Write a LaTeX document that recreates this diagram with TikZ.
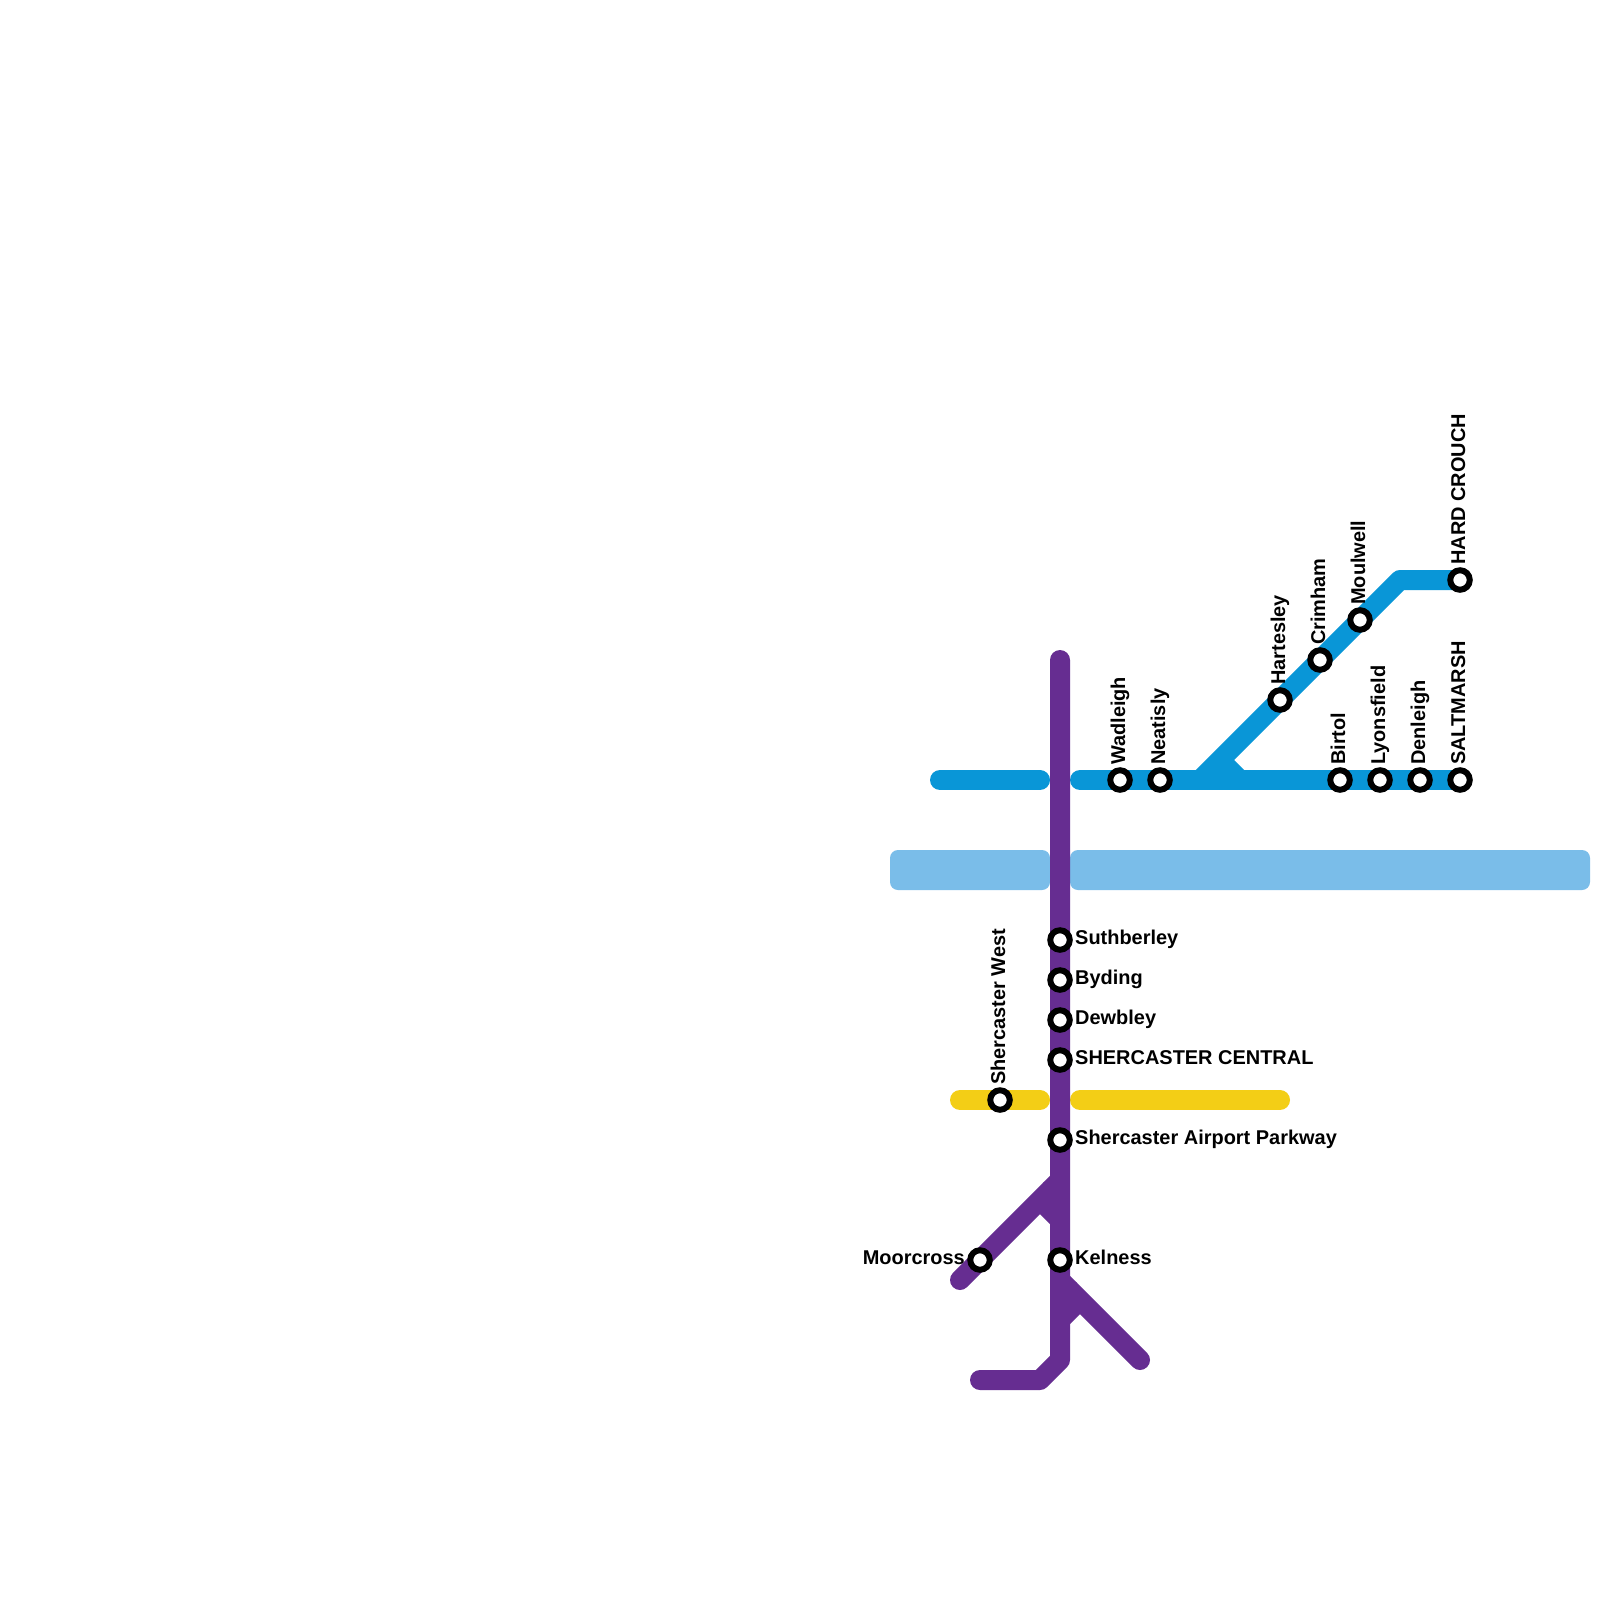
\documentclass[tikz,border=0pt]{standalone}
\usepackage{fontspec}
\setmainfont{Liberation Sans}
\tikzset{
  rail/.style={line width=20pt,line cap=butt,line join=round},
  railend/.style={line width=20pt,line cap=round,line join=round},
  stub/.style={line width=20pt,line cap=butt},
  station/.style={circle,draw=black,fill=white,line width=6pt,minimum size=19.5pt,inner sep=0pt,outer sep=0pt},
  lab/.style={font=\bfseries\fontsize{19.95pt}{22pt}\selectfont,text=black,inner sep=0pt},
  labr/.style={lab,anchor=base west,xshift=15pt,yshift=-4.7pt},
  labl/.style={lab,anchor=base east,xshift=-15pt,yshift=-4.7pt},
  labu/.style={lab,anchor=base west,xshift=5pt,yshift=15pt,rotate=90}
}
\definecolor{cblue}{HTML}{0996D7}
\definecolor{cpurple}{HTML}{662D91}
\definecolor{cyellow}{HTML}{F3CE16}
\definecolor{criver}{HTML}{7ABDE9}
\begin{document}
\begin{tikzpicture}[x=1pt,y=-1pt]
\useasboundingbox[fill=white] (0,0) rectangle (1600,1600);
% river
\fill[criver,rounded corners=8pt] (890,850) rectangle (1050,890);
\fill[criver,rounded corners=8pt] (1070,850) rectangle (1590,890);
% coordinates
\coordinate (bl) at (940,780);
\coordinate (bm) at (1040,780);
\coordinate (br) at (1080,780);
\coordinate (bj) at (1200,780);
\coordinate (be) at (1460,780);
\coordinate (bd) at (1400,580);
\coordinate (bt) at (1460,580);
\coordinate (bn1) at (1220,760);
\coordinate (bn2) at (1240,780);
\coordinate (yl) at (960,1100);
\coordinate (ym) at (1040,1100);
\coordinate (yr) at (1080,1100);
\coordinate (ye) at (1280,1100);
\coordinate (pt) at (1060,660);
\coordinate (pb) at (1060,1360);
\coordinate (pc) at (1040,1380);
\coordinate (pe) at (980,1380);
\coordinate (pl) at (960,1280);
\coordinate (plj) at (1060,1180);
\coordinate (plm) at (1050,1190);
\coordinate (pn1) at (1040,1200);
\coordinate (pn2) at (1060,1220);
\coordinate (prj) at (1060,1280);
\coordinate (prm) at (1070,1290);
\coordinate (pr) at (1140,1360);
\coordinate (pn3) at (1080,1300);
\coordinate (pn4) at (1060,1320);
% blue line
\draw[railend,cblue] (bl) -- (bm);
\draw[railend,cblue] (br) -- (be);
\draw[rail,cblue] (bj) -- (bd) -- (bt);
\draw[stub,cblue] (bn1) -- (bn2);
% yellow line
\draw[railend,cyellow] (yl) -- (ym);
\draw[railend,cyellow] (yr) -- (ye);
% purple line
\draw[railend,cpurple] (pt) -- (pb) -- (pc) -- (pe);
\draw[railend,cpurple] (pl) -- (plm);
\draw[rail,cpurple] (plm) -- (plj);
\draw[stub,cpurple] (pn1) -- (pn2);
\draw[railend,cpurple] (pr) -- (prm);
\draw[rail,cpurple] (prm) -- (prj);
\draw[stub,cpurple] (pn3) -- (pn4);
% stations
\node[station] (wad) at (1120,780) {};
\node[station] (nea) at (1160,780) {};
\node[station] (bir) at (1340,780) {};
\node[station] (lyo) at (1380,780) {};
\node[station] (den) at (1420,780) {};
\node[station] (sal) at (1460,780) {};
\node[station] (har) at (1280,700) {};
\node[station] (cri) at (1320,660) {};
\node[station] (mou) at (1360,620) {};
\node[station] (hcr) at (1460,580) {};
\node[station] (sut) at (1060,940) {};
\node[station] (byd) at (1060,980) {};
\node[station] (dew) at (1060,1020) {};
\node[station] (sce) at (1060,1060) {};
\node[station] (sap) at (1060,1140) {};
\node[station] (kel) at (1060,1260) {};
\node[station] (mcr) at (980,1260) {};
\node[station] (swe) at (1000,1100) {};
% labels
\node[labu] (lwad) at (wad) {Wadleigh};
\node[labu] (lnea) at (nea) {Neatisly};
\node[labu] (lbir) at (bir) {Birtol};
\node[labu] (llyo) at (lyo) {Lyonsfield};
\node[labu] (lden) at (den) {Denleigh};
\node[labu] (lsal) at (sal) {SALTMARSH};
\node[labu] (lhar) at (har) {Hartesley};
\node[labu] (lcri) at (cri) {Crimham};
\node[labu] (lmou) at (mou) {Moulwell};
\node[labu] (lhcr) at (hcr) {HARD CROUCH};
\node[labu] (lswe) at (swe) {Shercaster West};
\node[labr] (lsut) at (sut) {Suthberley};
\node[labr] (lbyd) at (byd) {Byding};
\node[labr] (ldew) at (dew) {Dewbley};
\node[labr] (lsce) at (sce) {SHERCASTER CENTRAL};
\node[labr] (lsap) at (sap) {Shercaster Airport Parkway};
\node[labr] (lkel) at (kel) {Kelness};
\node[labl] (lmcr) at (mcr) {Moorcross};
\end{tikzpicture}
\end{document}
